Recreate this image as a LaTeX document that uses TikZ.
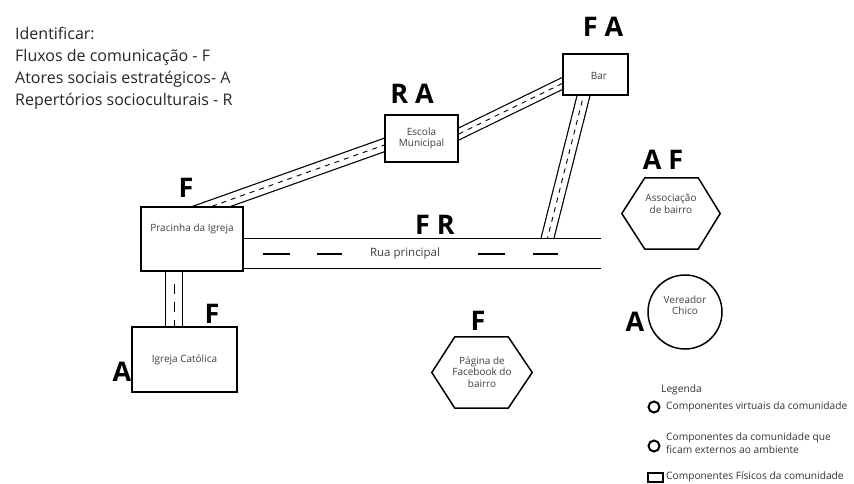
\documentclass[tikz,border=0pt]{standalone}
\usepackage{fontspec}
\setmainfont{Open Sans}
\usetikzlibrary{calc,backgrounds}
\begin{document}
\begin{tikzpicture}[x=1pt,y=-1pt,
  box/.style={draw, line width=1.5pt, fill=white, rectangle, inner sep=0pt},
  inner/.style={font=\fontsize{10}{11.5}\selectfont, text=black!75, align=center},
  shapeline/.style={draw, line width=1.5pt, fill=white},
  tag/.style={font=\fontsize{27}{27}\selectfont\bfseries},
  head/.style={font=\fontsize{16}{18}\selectfont, text=black!85, anchor=base west, inner sep=0pt},
  legtext/.style={font=\fontsize{10.2}{12.5}\selectfont, text=black!80, anchor=west, align=left, inner sep=0pt},
  road/.style={line width=1.2pt, double=white},
  middash/.style={line width=0.9pt, dash pattern=on 5pt off 5pt},
  ruadash/.style={line width=2.6pt, dash pattern=on 27pt off 27pt on 25pt off 136pt on 27pt off 28pt on 25pt off 10pt}]

\path[use as bounding box] (0,0) rectangle (854,484);

% heading
\node[head] at (15,40) {Identificar:};
\node[head] at (15,62) {Fluxos de comunicação - F};
\node[head] at (15,84) {Atores sociais estratégicos- A};
\node[head] at (15,106) {Repertórios socioculturais - R};

% physical places
\node[box, minimum width=102pt, minimum height=64pt] (prac) at (192,239) {};
\node[inner] (pracname) at (192,229) {Pracinha da Igreja};
\node[box, inner, minimum width=105pt, minimum height=65pt] (igr) at (184.5,359.5) {Igreja Católica};
\node[box, inner, minimum width=73pt, minimum height=47pt] (esc) at (421.5,138.5) {Escola\\Municipal};
\node[box, minimum width=65pt, minimum height=41pt] (bar) at (595.5,74.5) {};
\node[inner] (barname) at (599,76) {Bar};

% community components
\node[minimum width=98pt, minimum height=71pt, inner sep=0pt] (assoc) at (671,213.5) {};
\draw[shapeline] (assoc.west) -- ([xshift=23pt]assoc.north west) -- ([xshift=-22pt]assoc.north east)
  -- (assoc.east) -- ([xshift=-22pt]assoc.south east) -- ([xshift=23pt]assoc.south west) -- cycle;
\node[inner] (assocname) at (671,204) {Associação\\de bairro};

\node[draw, circle, line width=1.5pt, minimum size=74pt, inner sep=0pt] (ver) at (685,312) {};
\node[inner] (vername) at (685,305) {Vereador\\Chico};

\node[minimum width=100pt, minimum height=71pt, inner sep=0pt] (pag) at (482,372.5) {};
\draw[shapeline] (pag.west) -- ([xshift=23pt]pag.north west) -- ([xshift=-24pt]pag.north east)
  -- (pag.east) -- ([xshift=-24pt]pag.south east) -- ([xshift=23pt]pag.south west) -- cycle;
\node[inner] (pagname) at (482,372) {Página de\\Facebook do\\bairro};

% roads
\coordinate (cruz) at (543.5,254);
\coordinate (ruafim) at (601,253.5);
\begin{scope}[on background layer]
  \draw[road, double distance=11.5pt, shorten <=-20pt, shorten >=-20pt]
    ([xshift=20pt]prac.north) -- ([yshift=-6.5pt]esc.west);
  \draw[middash, shorten <=-20pt, shorten >=-20pt]
    ([xshift=20pt]prac.north) -- ([yshift=-6.5pt]esc.west);
  \draw[road, double distance=9.6pt, shorten <=-20pt, shorten >=-20pt]
    ([yshift=4.5pt]esc.east) -- ([yshift=-9pt]bar.west);
  \draw[middash, shorten <=-20pt, shorten >=-20pt]
    ([yshift=4.5pt]esc.east) -- ([yshift=-9pt]bar.west);
  \draw[road, double distance=11.3pt, shorten <=-15pt]
    ([xshift=-12pt]bar.south) -- (cruz);
  \draw[middash, shorten <=-15pt]
    ([xshift=-12pt]bar.south) -- (cruz);
  \draw[road, double distance=16.5pt, shorten <=-10pt, shorten >=-10pt]
    ([xshift=-18pt]prac.south) -- ([xshift=-18pt]prac.south |- igr.north);
  \draw[line width=1pt, dash pattern=on 10pt off 8pt]
    ([xshift=-18pt,yshift=-12pt]prac.south) -- ([xshift=-18pt]prac.south |- igr.north);
  \draw[road, double distance=29.5pt, shorten <=-10pt]
    ([yshift=-14.5pt]prac.east) -- (ruafim);
  \draw[ruadash] (263,254) -- (558,254);
\end{scope}
\node[inner, font=\fontsize{11.5}{13}\selectfont] (rua) at (405,254) {Rua principal};

% tags
\node[tag] at (603,27) {F A};
\node[tag] at (412,94) {R A};
\node[tag] at (186,188) {F};
\node[tag] at (435,225) {F R};
\node[tag] at (663,160) {A F};
\node[tag] at (635,322) {A};
\node[tag] at (478,321) {F};
\node[tag] at (212,314) {F};
\node[tag] at (122,372) {A};

% legend
\node[legtext] at (661,390) {Legenda};
\node[draw, circle, line width=2pt, minimum size=11pt, inner sep=0pt] (lv) at (654,407) {};
\node[legtext] at (666,407) {Componentes virtuais da comunidade};
\node[draw, circle, line width=2pt, minimum size=11pt, inner sep=0pt] (le) at (654,446) {};
\node[legtext] at (666,443) {Componentes da comunidade que\\ficam externos ao ambiente};
\node[draw, rectangle, line width=1.2pt, minimum width=15pt, minimum height=9pt, inner sep=0pt] (lf) at (655.5,477.5) {};
\node[legtext] at (666,477) {Componentes Físicos da comunidade};
\end{tikzpicture}
\end{document}
